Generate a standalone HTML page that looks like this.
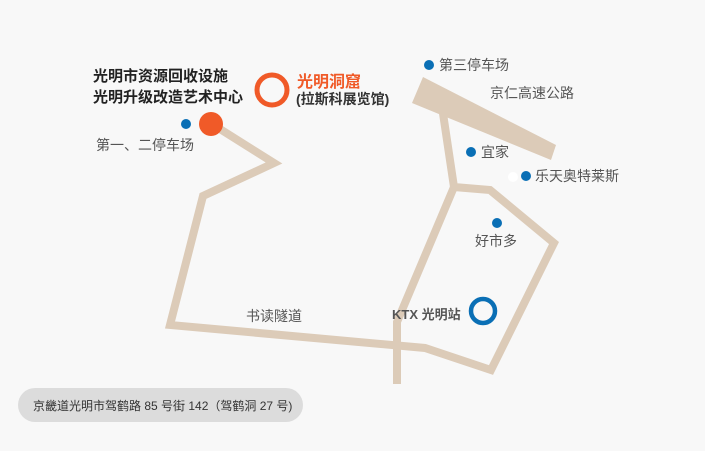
<!DOCTYPE html>
<html><head><meta charset="utf-8"><style>
body{margin:0;width:705px;height:451px;background:#f8f8f8;overflow:hidden;position:relative;font-family:"Liberation Sans","Noto Sans CJK SC",sans-serif}
.t{position:absolute;white-space:nowrap;font-size:14px;color:#555}
</style></head><body>
<svg width="705" height="451" style="position:absolute;left:0;top:0">
<g fill="none" stroke="#dccbb8" stroke-width="8" stroke-linejoin="miter">
<polyline points="212,124 274,163 203,196 170,325 425,348 491,370 554,243 490,190 454,187 441,100"/>
<polyline points="454,187 397,322 397,384"/>
</g>
<polygon points="423,77 556,145 551,160 412,103" fill="#dccbb8"/>
<circle cx="186" cy="124" r="5" fill="#0a6fb5"/>
<circle cx="211" cy="124" r="12" fill="#f05a28"/>
<circle cx="272" cy="90" r="15" fill="none" stroke="#f05a28" stroke-width="5"/>
<circle cx="429" cy="65" r="5" fill="#0a6fb5"/>
<circle cx="471" cy="152" r="5" fill="#0a6fb5"/>
<circle cx="513" cy="177" r="5" fill="#fff"/>
<circle cx="526" cy="176" r="5" fill="#0a6fb5"/>
<circle cx="497" cy="223" r="5" fill="#0a6fb5"/>
<circle cx="483" cy="311" r="12" fill="none" stroke="#0a6fb5" stroke-width="4.5"/>
<rect x="18" y="388" width="285" height="34" rx="17" fill="#dcdcdc"/>
</svg>
<div class="t" style="left:93px;top:66px;font-size:15px;font-weight:bold;color:#222;line-height:21px">光明市资源回收设施<br>光明升级改造艺术中心</div>
<div class="t" style="left:297px;top:68px;font-size:16px;font-weight:bold;color:#f05a28">光明洞窟</div>
<div class="t" style="left:296px;top:89px;font-size:14px;font-weight:bold;color:#333">(拉斯科展览馆)</div>
<div class="t" style="left:96px;top:135px">第一、二停车场</div>
<div class="t" style="left:439px;top:55px">第三停车场</div>
<div class="t" style="left:490px;top:83px">京仁高速公路</div>
<div class="t" style="left:481px;top:142px">宜家</div>
<div class="t" style="left:535px;top:166px">乐天奥特莱斯</div>
<div class="t" style="left:475px;top:231px">好市多</div>
<div class="t" style="left:392px;top:304px;font-size:13px;font-weight:bold">KTX 光明站</div>
<div class="t" style="left:246px;top:306px">书读隧道</div>
<div class="t" style="left:33px;top:397px;font-size:12px;color:#333">京畿道光明市驾鹤路 85 号街 142（驾鹤洞 27 号)</div>
</body></html>
